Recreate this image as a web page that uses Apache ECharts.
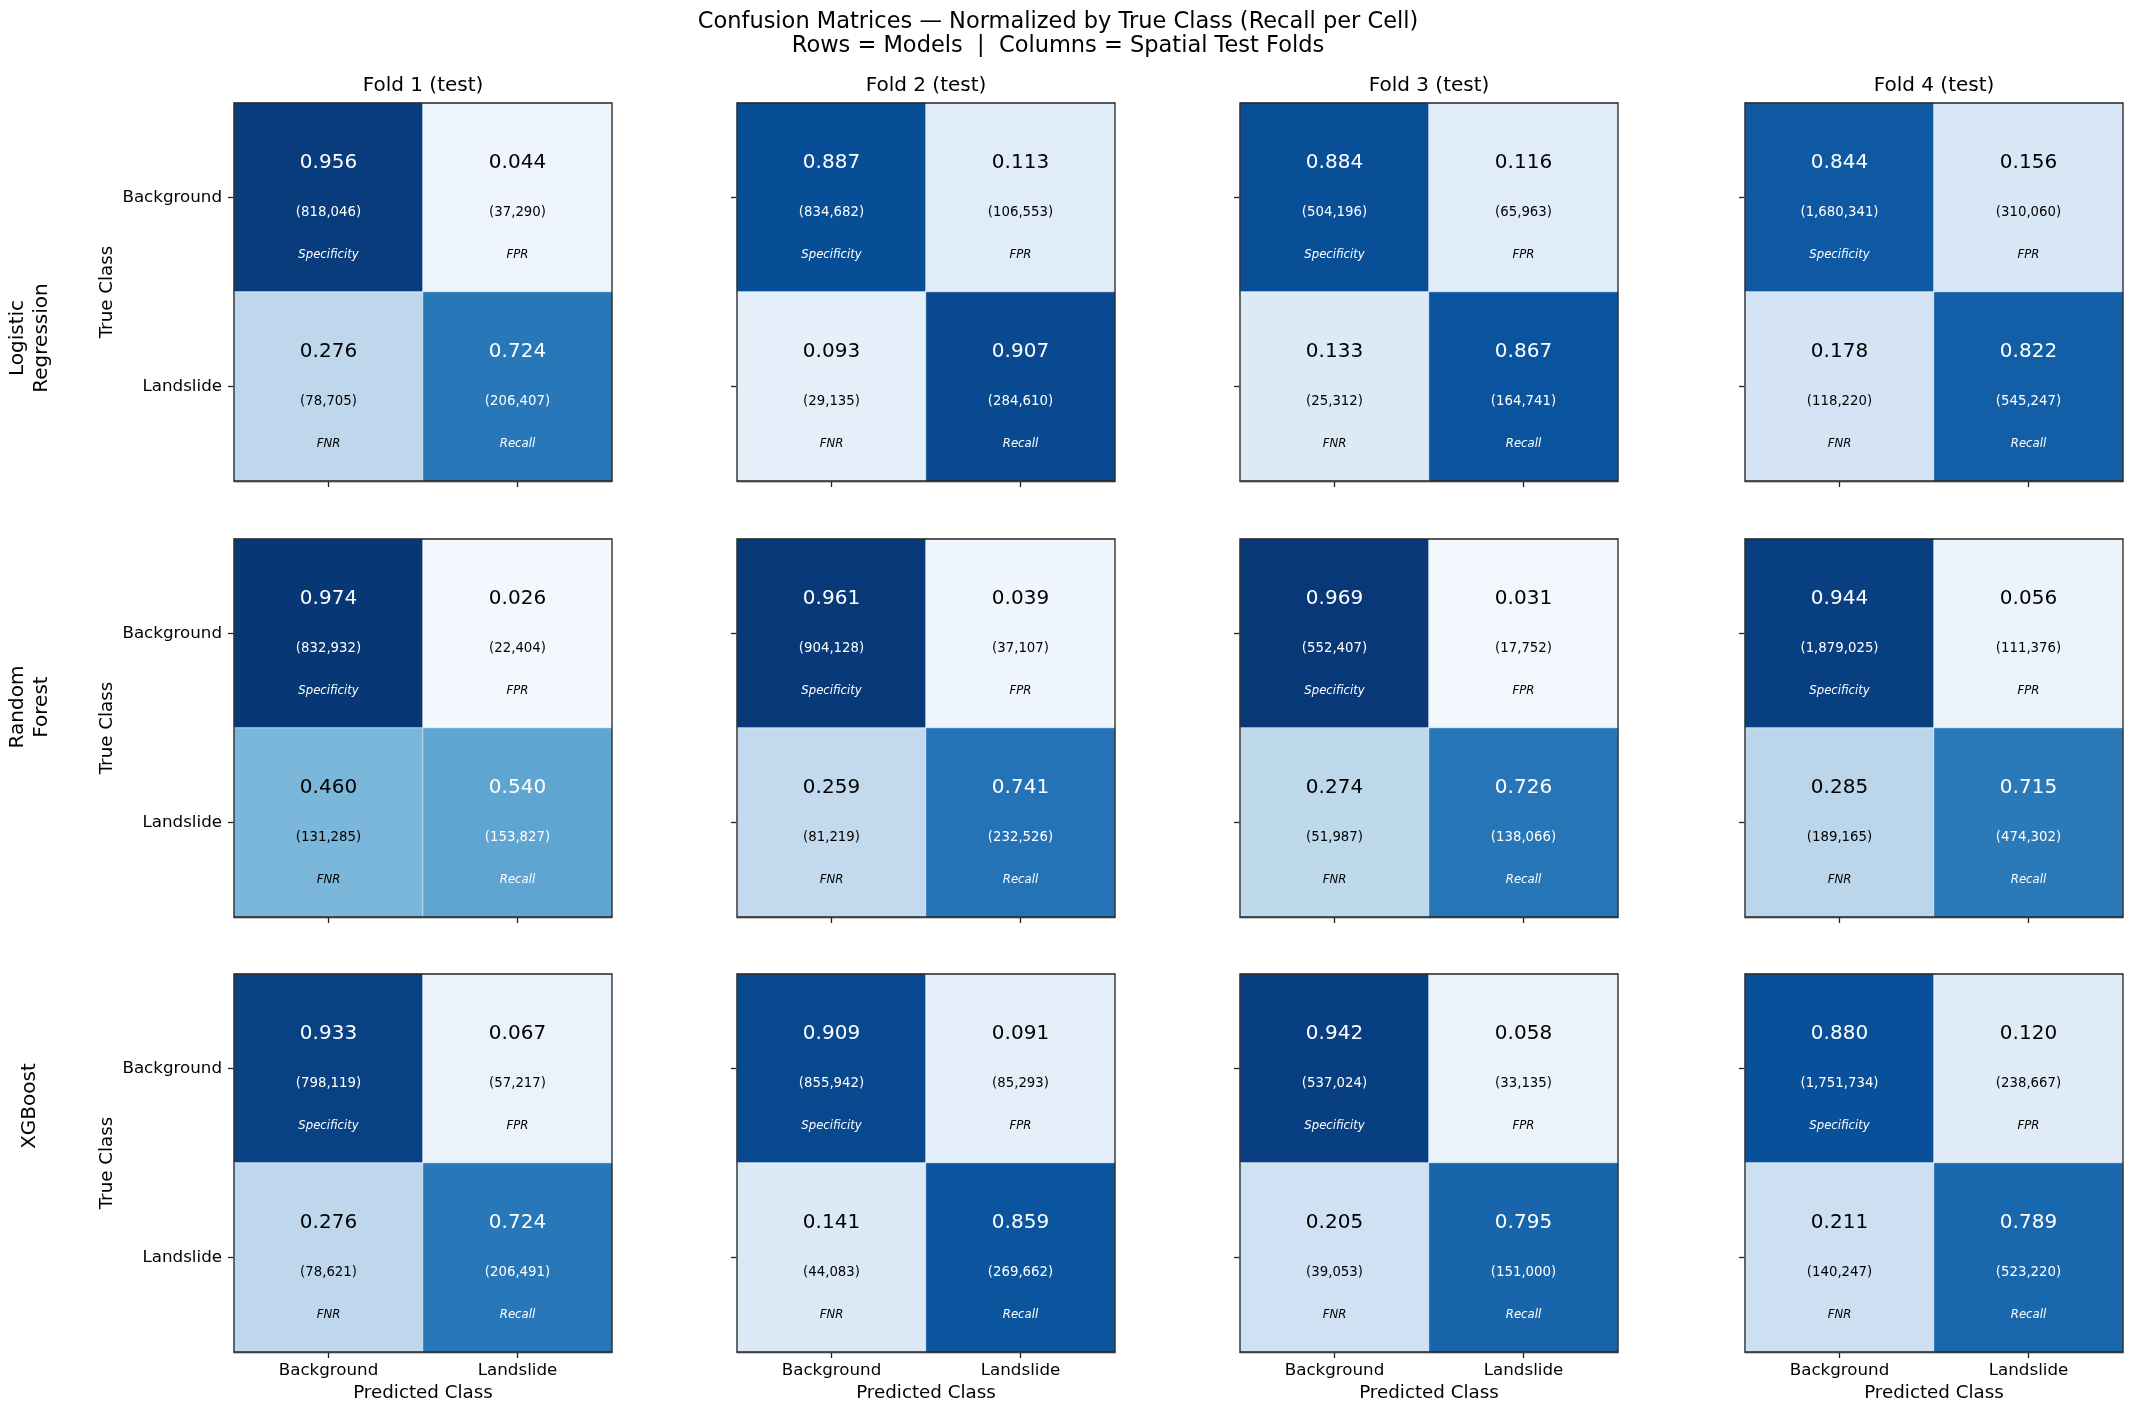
<!DOCTYPE html>
<html>
<head>
<meta charset="utf-8">
<script src="https://cdn.jsdelivr.net/npm/echarts@6/dist/echarts.min.js"></script>
<style>
html,body{margin:0;padding:0;background:#fff;}
#chart{width:2132px;height:1407px;}
</style>
</head>
<body>
<div id="chart"></div>
<script>
// ---------------- data ----------------
const models = ['Logistic\nRegression', 'Random\nForest', 'XGBoost'];
const folds = ['Fold 1 (test)', 'Fold 2 (test)', 'Fold 3 (test)', 'Fold 4 (test)'];
const classes = ['Background', 'Landslide'];
const cellNames = [['Specificity', 'FPR'], ['FNR', 'Recall']];
const mainTitle = 'Confusion Matrices \u2014 Normalized by True Class (Recall per Cell)\nRows = Models  |  Columns = Spatial Test Folds';

// rates per fold: [TN-rate, FP-rate, FN-rate, TP-rate]
const lrRates = [[0.956, 0.044, 0.276, 0.724], [0.887, 0.113, 0.093, 0.907], [0.884, 0.116, 0.133, 0.867], [0.844, 0.156, 0.178, 0.822]];
const lrCounts = [[818046, 37290, 78705, 206407], [834682, 106553, 29135, 284610], [504196, 65963, 25312, 164741], [1680341, 310060, 118220, 545247]];
const rfRates = [[0.974, 0.026, 0.460, 0.540], [0.961, 0.039, 0.259, 0.741], [0.969, 0.031, 0.274, 0.726], [0.944, 0.056, 0.285, 0.715]];
const rfCounts = [[832932, 22404, 131285, 153827], [904128, 37107, 81219, 232526], [552407, 17752, 51987, 138066], [1879025, 111376, 189165, 474302]];
const xgbRates = [[0.933, 0.067, 0.276, 0.724], [0.909, 0.091, 0.141, 0.859], [0.942, 0.058, 0.205, 0.795], [0.880, 0.120, 0.211, 0.789]];
const xgbCounts = [[798119, 57217, 78621, 206491], [855942, 85293, 44083, 269662], [537024, 33135, 39053, 151000], [1751734, 238667, 140247, 523220]];

const allRates = [lrRates, rfRates, xgbRates];
const allCounts = [lrCounts, rfCounts, xgbCounts];

// matplotlib "Blues" colormap anchors
const blues = ['#f7fbff', '#deebf7', '#c6dbef', '#9ecae1', '#6baed6', '#4292c6', '#2171b5', '#08519c', '#08306b'];

// ---------------- layout ----------------
const FONT = 'DejaVu Sans';
const colLeft = [234, 737, 1240, 1745];
const rowTop = [103, 539, 974];
const SIZE = 378;
const rowLabelY = [338, 707, 1106];

const grids = [], xAxes = [], yAxes = [], series = [], seriesIdx = [];
for (let m = 0; m < 3; m++) {
  for (let f = 0; f < 4; f++) {
    const gi = m * 4 + f;
    grids.push({
      left: colLeft[f], top: rowTop[m], width: SIZE, height: SIZE,
      show: true, borderColor: '#222', borderWidth: 1.3, backgroundColor: 'transparent', z: 10
    });
    xAxes.push({
      type: 'category', gridIndex: gi, data: classes, position: 'bottom',
      axisLine: { show: true, lineStyle: { color: '#222', width: 1.3 } },
      axisTick: { show: true, alignWithLabel: true, length: 6, lineStyle: { color: '#222', width: 1.3 } },
      axisLabel: { show: m === 2, fontFamily: FONT, fontSize: 16.7, color: '#000', margin: 10 },
      splitLine: { show: false },
      name: m === 2 ? 'Predicted Class' : '', nameLocation: 'middle', nameGap: 32,
      nameTextStyle: { fontFamily: FONT, fontSize: 18.3, color: '#000' }
    });
    yAxes.push({
      type: 'category', gridIndex: gi, data: classes, inverse: true,
      axisLine: { show: true, lineStyle: { color: '#222', width: 1.3 } },
      axisTick: { show: true, alignWithLabel: true, length: 6, lineStyle: { color: '#222', width: 1.3 } },
      axisLabel: { show: f === 0, fontFamily: FONT, fontSize: 16.7, color: '#000', margin: 12 },
      splitLine: { show: false },
      name: f === 0 ? 'True Class' : '', nameLocation: 'middle', nameGap: 118, nameRotate: 90,
      nameTextStyle: { fontFamily: FONT, fontSize: 18.3, color: '#000' }
    });
    const rates = allRates[m][f], counts = allCounts[m][f];
    const data = [];
    for (let r = 0; r < 2; r++) {
      for (let c = 0; c < 2; c++) {
        data.push({ value: [c, r, rates[r * 2 + c]], count: counts[r * 2 + c], cname: cellNames[r][c] });
      }
    }
    seriesIdx.push(gi);
    series.push({
      type: 'heatmap', xAxisIndex: gi, yAxisIndex: gi, data: data,
      itemStyle: { borderColor: 'rgba(255,255,255,0.55)', borderWidth: 1 },
      emphasis: { disabled: true },
      label: {
        show: true, position: 'inside', offset: [0, 7],
        formatter: function (p) {
          const v = p.value[2];
          const k = v > 0.5 ? 'w' : 'b';
          return '{v' + k + '|' + v.toFixed(3) + '}\n{c' + k + '|(' + p.data.count.toLocaleString('en-US') + ')}\n{l' + k + '|' + p.data.cname + '}';
        },
        rich: {
          vw: { fontFamily: FONT, fontSize: 20, color: '#fff', lineHeight: 56 },
          vb: { fontFamily: FONT, fontSize: 20, color: '#000', lineHeight: 56 },
          cw: { fontFamily: FONT, fontSize: 13.3, color: '#fff', lineHeight: 44 },
          cb: { fontFamily: FONT, fontSize: 13.3, color: '#000', lineHeight: 44 },
          lw: { fontFamily: FONT, fontSize: 11.7, fontStyle: 'italic', color: '#fff', lineHeight: 40 },
          lb: { fontFamily: FONT, fontSize: 11.7, fontStyle: 'italic', color: '#000', lineHeight: 40 }
        }
      }
    });
  }
}

const graphics = [];
graphics.push({
  type: 'text', x: 1058, y: 34,
  style: {
    text: mainTitle, fontFamily: FONT, fontSize: 22.5, fill: '#000', lineHeight: 24,
    textAlign: 'center', align: 'center', textVerticalAlign: 'middle', verticalAlign: 'middle'
  }
});
folds.forEach(function (t, f) {
  graphics.push({
    type: 'text', x: colLeft[f] + SIZE / 2, y: 86,
    style: {
      text: t, fontFamily: FONT, fontSize: 20, fill: '#000',
      textAlign: 'center', align: 'center', textVerticalAlign: 'middle', verticalAlign: 'middle'
    }
  });
});
models.forEach(function (t, m) {
  graphics.push({
    type: 'text', x: 30, y: rowLabelY[m], rotation: Math.PI / 2,
    style: {
      text: t, fontFamily: FONT, fontSize: 20, fill: '#000', lineHeight: 24,
      textAlign: 'center', align: 'center', textVerticalAlign: 'middle', verticalAlign: 'middle'
    }
  });
});

const chart = echarts.init(document.getElementById('chart'), null, { renderer: 'canvas' });
chart.setOption({
  animation: false,
  backgroundColor: '#fff',
  grid: grids,
  xAxis: xAxes,
  yAxis: yAxes,
  visualMap: {
    type: 'continuous', show: false, min: 0, max: 1, dimension: 2,
    seriesIndex: seriesIdx, inRange: { color: blues }
  },
  graphic: graphics,
  series: series
});
</script>
</body>
</html>
